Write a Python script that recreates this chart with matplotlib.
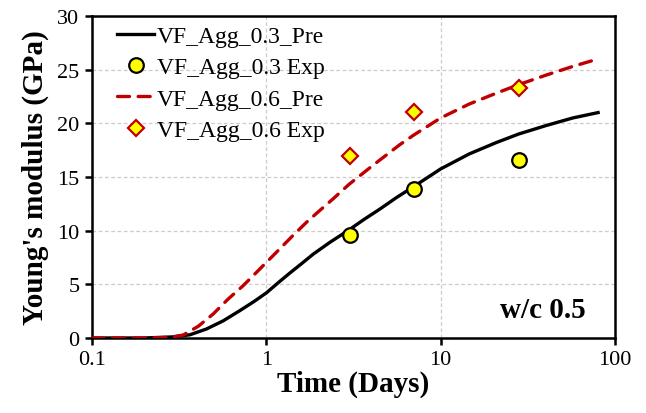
import numpy as np
import matplotlib
matplotlib.use('Agg')
import matplotlib.pyplot as plt

plt.rcParams['font.family'] = ['Liberation Serif', 'DejaVu Serif']

# predicted curves (time in days, modulus in GPa)
t_pre_03 = [0.1, 0.2, 0.29, 0.365, 0.454, 0.566, 0.705, 0.85, 1.0, 1.18, 1.364, 1.6, 1.854,
            2.31, 3.0, 3.6, 4.47, 5.6, 7.0, 10.0, 14.6, 20.8, 28.0, 40.4, 57.3, 80.0]
e_pre_03 = [0.0, 0.0, 0.1, 0.3, 0.84, 1.6, 2.55, 3.4, 4.2, 5.2, 6.05, 6.95, 7.8,
            8.9, 10.1, 11.0, 12.0, 13.1, 14.1, 15.75, 17.15, 18.2, 19.0, 19.8, 20.5, 21.0]

t_pre_06 = [0.1, 0.2, 0.28, 0.334, 0.407, 0.496, 0.604, 0.736, 0.918, 1.143, 1.42, 1.70,
            2.0, 2.41, 3.0, 4.1, 5.82, 7.0, 10.0, 14.6, 20.8, 28.0, 40.4, 57.3, 80.0]
e_pre_06 = [0.0, 0.0, 0.05, 0.28, 1.09, 2.24, 3.63, 4.87, 6.43, 7.99, 9.54, 10.78,
            11.8, 12.95, 14.35, 16.1, 18.0, 18.9, 20.5, 21.8, 22.8, 23.6, 24.5, 25.3, 26.0]

# measured values
t_exp = [3, 7, 28]
e_exp_03 = [9.6, 13.9, 16.6]
e_exp_06 = [17.0, 21.1, 23.3]

labels = ['VF_Agg_0.3_Pre', 'VF_Agg_0.3 Exp', 'VF_Agg_0.6_Pre', 'VF_Agg_0.6 Exp']

fig = plt.figure(figsize=(6.46, 4.14), dpi=100)
ax = fig.add_axes([0.1424, 0.1812, 0.8096, 0.7778])

ax.plot(t_pre_03, e_pre_03, color='black', lw=2.4, label=labels[0], zorder=3,
        solid_joinstyle='round')
ax.plot(t_exp, e_exp_03, ls='none', marker='o', ms=10.5, mfc='#FFFF00', mec='black',
        mew=1.6, label=labels[1], zorder=4)
ax.plot(t_pre_06, e_pre_06, color='#C00000', lw=2.4, dashes=(3.6, 2.6),
        dash_capstyle='round', label=labels[2], zorder=3)
ax.plot(t_exp, e_exp_06, ls='none', marker='D', ms=8.5, mfc='#FFFF00', mec='#C00000',
        mew=1.6, label=labels[3], zorder=4)

ax.set_xscale('log')
ax.set_xlim(0.1, 100)
ax.set_ylim(0, 30)
ax.set_xticks([0.1, 1, 10, 100])
ax.set_xticklabels(['0.1', '1', '10', '100'])
ax.xaxis.set_minor_locator(matplotlib.ticker.NullLocator())
ax.set_yticks(np.arange(0, 31, 5))

ax.grid(True, color='#CCCCCC', ls=(0, (3, 2)), lw=0.9)
ax.set_axisbelow(True)
for s in ax.spines.values():
    s.set_linewidth(1.8)
ax.tick_params(axis='both', direction='out', length=5, width=1.8, labelsize=16, pad=4)

ax.set_xlabel('Time (Days)', fontsize=21, fontweight='bold', labelpad=0)
ax.set_ylabel("Young's modulus (GPa)", fontsize=21, fontweight='bold', labelpad=6)

ax.text(0.945, 0.045, 'w/c 0.5', transform=ax.transAxes, ha='right', va='bottom',
        fontsize=21, fontweight='bold')

ax.legend(loc='upper left', bbox_to_anchor=(0.02, 1.015), frameon=False, fontsize=17,
          handlelength=1.6, handletextpad=0.1, labelspacing=0.42, borderaxespad=0.2)

fig.savefig('out.png', dpi=100)
